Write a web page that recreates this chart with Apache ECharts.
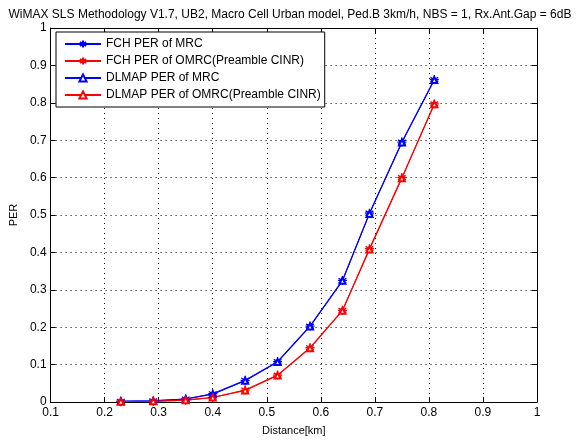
<!DOCTYPE html>
<html>
<head>
<meta charset="utf-8">
<script src="https://cdn.jsdelivr.net/npm/echarts@6/dist/echarts.min.js"></script>
<style>
html,body{margin:0;padding:0;background:#fff;}
#chart{width:580px;height:441px;}
</style>
</head>
<body>
<div id="chart"></div>
<script>
// Distance samples [km] and packet error rates per curve
const distance = [0.23, 0.29, 0.35, 0.40, 0.46, 0.52, 0.58, 0.64, 0.69, 0.75, 0.81];
const fchMrc   = [0.002, 0.003, 0.008, 0.022, 0.058, 0.108, 0.203, 0.325, 0.505, 0.695, 0.862];
const fchOmrc  = [0.001, 0.002, 0.005, 0.012, 0.032, 0.072, 0.145, 0.245, 0.410, 0.600, 0.797];
const dlmapMrc = [0.002, 0.003, 0.008, 0.021, 0.057, 0.107, 0.202, 0.324, 0.503, 0.694, 0.861];
const dlmapOmrc= [0.001, 0.002, 0.005, 0.012, 0.031, 0.071, 0.144, 0.244, 0.408, 0.598, 0.796];
const seriesNames = ['FCH PER of MRC', 'FCH PER of OMRC(Preamble CINR)', 'DLMAP PER of MRC', 'DLMAP PER of OMRC(Preamble CINR)'];
const titleText = 'WiMAX SLS Methodology V1.7, UB2, Macro Cell Urban model, Ped.B 3km/h, NBS = 1, Rx.Ant.Gap = 6dB';

const FONT = 'Liberation Sans, Arial, sans-serif';
const BLUE = '#0000ff', RED = '#ff0000';
const STAR = 'path://M0,-10L0,10M-8.66,-5L8.66,5M-8.66,5L8.66,-5M-10,0L10,0';

const pairs = ys => distance.map((x, i) => [x, ys[i]]);
const fmt = v => String(Math.round(v * 10) / 10);

function mkSeries(name, ys, color, symbol, size) {
  return {
    name, type: 'line', data: pairs(ys),
    symbol, symbolSize: size, showAllSymbol: true,
    lineStyle: {color, width: 1.1},
    itemStyle: {color, borderColor: color, borderWidth: 1.3},
    emphasis: {disabled: true},
    z: 3
  };
}

const gridLine = {show: true, lineStyle: {color: '#000', type: [1, 4], width: 1}};
const chart = echarts.init(document.getElementById('chart'), null, {renderer: 'canvas'});
chart.setOption({
  backgroundColor: '#fff',
  animation: false,
  title: {
    text: titleText, left: 'center', top: 4,
    textStyle: {fontFamily: FONT, fontSize: 12, fontWeight: 'normal', color: '#000'}
  },
  legend: {
    orient: 'vertical', left: 56, top: 32,
    data: seriesNames,
    backgroundColor: '#fff', borderColor: '#000', borderWidth: 1,
    padding: [6, 4, 6, 8], itemGap: 5, itemWidth: 36, itemHeight: 9,
    textStyle: {fontFamily: FONT, fontSize: 12, color: '#000'}
  },
  grid: {left: 50, right: 43, top: 28, bottom: 33},
  xAxis: [{
    type: 'value', min: 0.1, max: 1, interval: 0.1,
    name: 'Distance[km]', nameLocation: 'middle', nameGap: 23,
    nameTextStyle: {fontFamily: FONT, fontSize: 11, color: '#000'},
    axisLine: {onZero: false, lineStyle: {color: '#000'}},
    axisTick: {inside: true, length: 5, lineStyle: {color: '#000'}},
    axisLabel: {fontFamily: FONT, fontSize: 12, color: '#000', margin: 5, formatter: fmt},
    splitLine: gridLine
  }, {
    type: 'value', position: 'top', min: 0.1, max: 1, interval: 0.1,
    axisLine: {show: true, onZero: false, lineStyle: {color: '#000'}},
    axisTick: {inside: true, length: 5, lineStyle: {color: '#000'}},
    axisLabel: {show: false}, splitLine: {show: false}
  }],
  yAxis: [{
    type: 'value', min: 0, max: 1, interval: 0.1,
    name: 'PER', nameLocation: 'middle', nameGap: 30, nameRotate: 90,
    nameTextStyle: {fontFamily: FONT, fontSize: 11, color: '#000'},
    axisLine: {show: true, onZero: false, lineStyle: {color: '#000'}},
    axisTick: {show: true, inside: true, length: 5, lineStyle: {color: '#000'}},
    axisLabel: {fontFamily: FONT, fontSize: 12, color: '#000', margin: 4, formatter: fmt},
    splitLine: gridLine
  }, {
    type: 'value', position: 'right', min: 0, max: 1, interval: 0.1,
    axisLine: {show: true, onZero: false, lineStyle: {color: '#000'}},
    axisTick: {show: true, inside: true, length: 5, lineStyle: {color: '#000'}},
    axisLabel: {show: false}, splitLine: {show: false}
  }],
  series: [
    mkSeries(seriesNames[0], fchMrc, BLUE, STAR, 9),
    mkSeries(seriesNames[1], fchOmrc, RED, STAR, 9),
    mkSeries(seriesNames[2], dlmapMrc, BLUE, 'emptyTriangle', 6),
    mkSeries(seriesNames[3], dlmapOmrc, RED, 'emptyTriangle', 6)
  ]
});
</script>
</body>
</html>
